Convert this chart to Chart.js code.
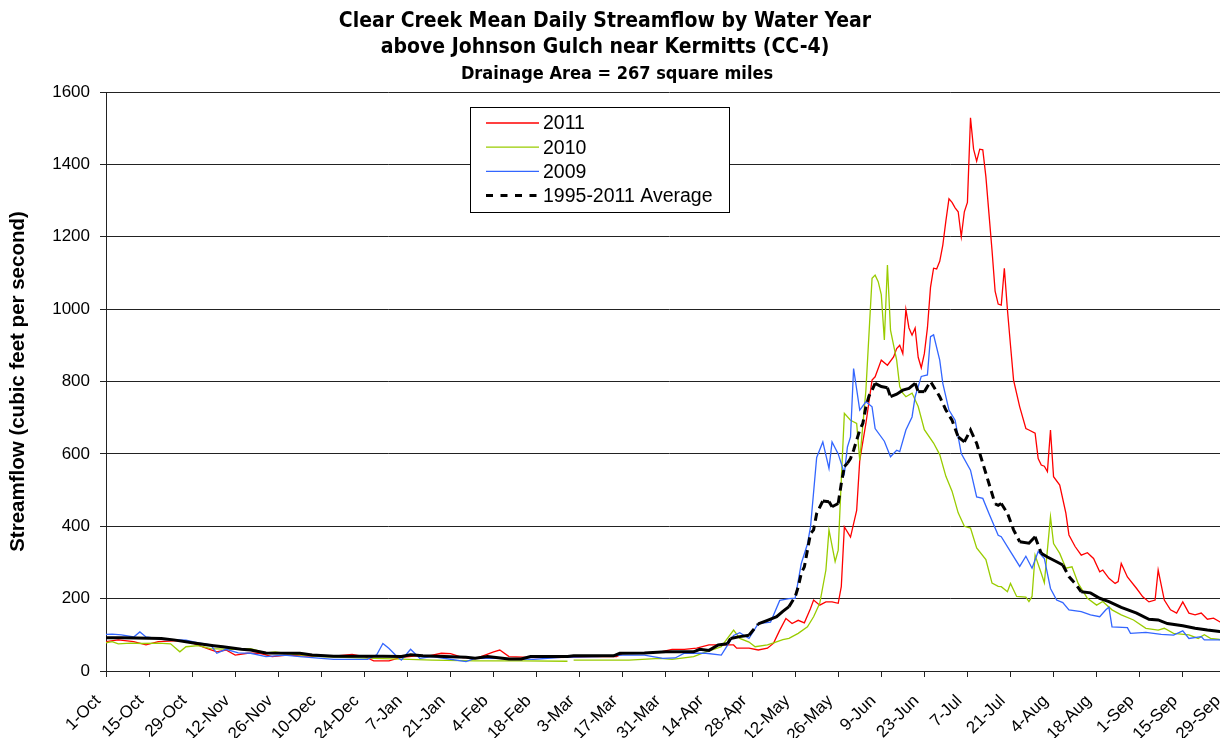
<!DOCTYPE html>
<html>
<head>
<meta charset="utf-8">
<title>Clear Creek Mean Daily Streamflow</title>
<script src="https://cdn.jsdelivr.net/npm/chart.js@4.4.0/dist/chart.umd.min.js"></script>
<style>
  html, body { margin: 0; padding: 0; background: #fff; overflow: hidden; }
  #wrap { width: 1232px; height: 738px; }
</style>
</head>
<body>
<div id="wrap"><canvas id="flowChart" width="1232" height="738"></canvas></div>
<script>
// tick labels along the water year, one every 14 days
const tickLabels = ['1-Oct', '15-Oct', '29-Oct', '12-Nov', '26-Nov', '10-Dec', '24-Dec', '7-Jan', '21-Jan',
  '4-Feb', '18-Feb', '3-Mar', '17-Mar', '31-Mar', '14-Apr', '28-Apr', '12-May', '26-May', '9-Jun',
  '23-Jun', '7-Jul', '21-Jul', '4-Aug', '18-Aug', '1-Sep', '15-Sep', '29-Sep'];
const tickDays = tickLabels.map((_, i) => i * 14);

const titleLines = ['Clear Creek Mean Daily Streamflow by Water Year',
  'above Johnson Gulch near Kermitts (CC-4)'];
const subTitle = 'Drainage Area = 267 square miles';
const yTitle = 'Streamflow (cubic feet per second)';

const seriesNames = ['2011', '2010', '2009', '1995-2011 Average'];
const seriesColors = ['#ff0000', '#99cc00', '#3366ff', '#000000'];

// [day of water year, cfs]
const flow2011 = [[0,81],[4,86],[9,81],[13,72],[17,81],[24,84],[28,78],[33,62],[36,53],[39,58],[42,44],[46,49],
  [50,49],[54,40],[59,44],[65,41],[74,41],[80,46],[84,40],[87,28],[92,28],[96,38],[101,42],[105,42],[109,49],
  [112,48],[116,37],[121,37],[126,53],[128,58],[131,40],[140,37],[150,38],[158,40],[166,40],[168,49],[174,50],
  [180,52],[184,60],[188,60],[192,63],[196,72],[200,72],[204,72],[205,63],[209,63],[212,58],[215,63],[217,77],
  [219,113],[221,145],[223,131],[225,140],[227,133],[229,173],[230,196],[232,182],[234,191],[236,191],[238,187],
  [239,233],[240,398],[242,370],[244,444],[245,582],[247,684],[249,804],[250,813],[252,859],[254,845],[256,868],
  [257,891],[258,900],[259,877],[260,999],[261,948],[262,928],[263,948],[264,867],[265,838],[266,877],[267,948],
  [268,1060],[269,1113],[270,1111],[271,1132],[272,1177],[273,1244],[274,1305],[275,1295],[276,1280],[277,1269],
  [278,1200],[279,1269],[280,1295],[281,1529],[282,1442],[283,1409],[284,1442],[285,1440],[286,1366],[287,1264],
  [288,1162],[289,1050],[290,1014],[291,1011],[292,1113],[293,999],[294,900],[295,804],[297,730],[299,670],
  [300,666],[302,657],[303,587],[304,569],[305,566],[306,551],[307,666],[308,537],[310,514],[312,436],[313,376],
  [315,344],[317,320],[319,327],[321,311],[323,274],[324,279],[326,256],[328,242],[329,247],[330,297],[332,260],
  [335,228],[337,205],[339,191],[341,196],[342,279],[344,196],[346,169],[348,160],[350,191],[352,160],[354,155],
  [356,160],[358,143],[360,146],[362,136],[363,131],[365,128]];

const flow2010 = [[0,78],[2,81],[4,75],[8,77],[12,76],[17,77],[21,75],[24,53],[26,67],[30,70],[34,62],[41,60],
  [47,62],[52,50],[55,53],[61,46],[70,40],[80,37],[87,35],[96,33],[106,30],[120,28],[135,28],[150,27],[151,null],
  [152,30],[170,30],[180,35],[184,32],[191,40],[195,53],[198,61],[200,67],[204,113],[206,90],[209,80],[211,67],
  [215,72],[217,78],[220,87],[222,90],[225,104],[228,122],[230,150],[232,187],[234,279],[235,390],[237,302],
  [238,334],[239,528],[240,712],[242,693],[244,684],[245,582],[247,776],[249,1085],[250,1094],[251,1076],
  [252,1040],[253,915],[254,1122],[255,942],[257,859],[258,786],[259,768],[260,758],[262,768],[264,731],
  [266,667],[269,630],[271,598],[273,538],[275,497],[277,437],[279,400],[281,395],[283,340],[286,308],[288,243],
  [290,234],[291,233],[293,219],[294,242],[296,206],[299,204],[300,192],[301,206],[302,320],[304,270],[305,244],
  [307,426],[308,352],[310,325],[312,284],[314,288],[316,242],[319,201],[322,182],[324,192],[327,169],[330,155],
  [334,141],[338,118],[342,113],[344,118],[347,104],[352,100],[355,90],[357,100],[359,90],[362,87],[365,85]];

const flow2009 = [[0,101],[2,102],[5,100],[9,94],[11,108],[13,94],[19,87],[26,85],[30,78],[34,72],[36,49],[39,60],
  [43,50],[47,49],[52,40],[58,44],[63,40],[74,32],[85,32],[88,45],[90,76],[92,62],[94,45],[96,30],[99,60],[102,35],
  [106,40],[117,26],[120,35],[128,35],[139,32],[148,38],[160,40],[168,44],[175,44],[181,35],[185,36],[188,49],
  [195,49],[200,44],[204,98],[206,106],[209,90],[212,131],[216,135],[219,195],[222,200],[224,201],[226,297],
  [228,351],[229,398],[231,590],[233,633],[235,560],[236,633],[238,600],[240,546],[241,619],[242,647],[243,836],
  [245,721],[247,744],[249,730],[250,670],[253,635],[255,592],[257,610],[258,606],[260,666],[262,702],[263,758],
  [265,814],[267,818],[268,924],[269,929],[271,859],[272,795],[274,721],[276,693],[278,601],[281,555],[283,481],
  [285,477],[287,435],[290,375],[291,371],[294,330],[297,289],[299,317],[301,284],[303,330],[305,311],[307,228],
  [309,196],[311,189],[313,169],[317,164],[320,155],[323,150],[325,169],[326,176],[327,122],[332,120],[333,104],
  [338,107],[343,101],[347,99],[350,111],[352,90],[356,95],[357,86],[362,86],[365,86]];

const flowAverage = [[0,92],[5,92],[10,91],[18,90],[22,86],[28,78],[35,70],[38,67],[44,60],[47,58],[52,50],[63,49],
  [67,44],[74,41],[90,41],[96,40],[99,45],[103,42],[110,40],[117,38],[120,35],[124,40],[131,33],[135,33],[138,40],
  [150,40],[152,42],[165,42],[167,49],[175,50],[182,53],[191,53],[193,60],[196,57],[199,72],[202,75],[203,90],
  [206,95],[209,99],[212,130],[215,140],[218,150],[220,165],[222,178],[224,205],[225,232],[226,270],[227,288],
  [228,334],[229,380],[230,390],[231,435],[233,470],[235,468],[236,454],[238,463],[239,518],[240,565],[241,574],
  [242,587],[243,610],[244,638],[245,666],[246,684],[247,730],[248,760],[249,776],[250,795],[252,786],[254,783],
  [255,758],[257,765],[259,776],[261,781],[263,795],[264,772],[266,772],[268,800],[271,758],[273,721],[275,693],
  [277,647],[279,633],[281,666],[283,629],[285,574],[287,518],[289,462],[290,458],[291,463],[293,436],[295,390],
  [297,357],[300,353],[302,371],[304,325],[306,315],[309,302],[311,293],[313,261],[315,242],[317,219],[320,216],
  [323,201],[326,192],[330,176],[335,160],[339,143],[342,141],[345,131],[350,125],[354,118],[358,113],[362,109],
  [365,107]];

const allSeries = [flow2011, flow2010, flow2009, flowAverage];

function toPoints(pairs) {
  return pairs.map(p => ({ x: p[0], y: p[1] }));
}

const sansFont = '"Liberation Sans", Arial, sans-serif';
const titleFont = '"DejaVu Sans Condensed", "Liberation Sans Narrow", "DejaVu Sans", sans-serif';

// titles drawn above the plot
const headerPlugin = {
  id: 'header',
  afterDraw(chart) {
    const ctx = chart.ctx;
    ctx.save();
    ctx.fillStyle = '#000';
    ctx.textAlign = 'center';
    ctx.textBaseline = 'middle';
    ctx.font = 'bold 21px ' + titleFont;
    ctx.fillText(titleLines[0], 605, 22);
    ctx.fillText(titleLines[1], 605, 48);
    ctx.font = 'bold 18px ' + titleFont;
    ctx.fillText(subTitle, 617, 74);
    ctx.restore();
  }
};

// boxed legend inside the plot, like the original
const boxLegend = {
  id: 'boxLegend',
  afterDraw(chart) {
    const ctx = chart.ctx;
    const x0 = 470, y0 = 107, w = 259, h = 105;
    ctx.save();
    ctx.fillStyle = '#fff';
    ctx.fillRect(x0, y0, w, h);
    ctx.strokeStyle = '#000';
    ctx.lineWidth = 1;
    ctx.strokeRect(x0 + 0.5, y0 + 0.5, w, h);
    ctx.font = '19.5px ' + sansFont;
    ctx.textBaseline = 'middle';
    ctx.textAlign = 'left';
    seriesNames.forEach((name, i) => {
      const y = 123 + i * 24.2;
      ctx.beginPath();
      ctx.strokeStyle = seriesColors[i];
      if (i === 3) {
        ctx.lineWidth = 3;
        ctx.setLineDash([7, 7.5]);
      } else {
        ctx.lineWidth = 1.3;
        ctx.setLineDash([]);
      }
      ctx.moveTo(486, y);
      ctx.lineTo(539, y);
      ctx.stroke();
      ctx.fillStyle = '#000';
      ctx.fillText(name, 543, y + 1);
    });
    ctx.restore();
  }
};

function makeDataset(i) {
  const ds = {
    label: seriesNames[i],
    data: toPoints(allSeries[i]),
    borderColor: seriesColors[i],
    backgroundColor: seriesColors[i],
    borderWidth: 1.3,
    pointRadius: 0,
    tension: 0,
    fill: false,
    spanGaps: false
  };
  return ds;
}

document.addEventListener('DOMContentLoaded', () => {
  const datasets = [0, 1, 2, 3].map(makeDataset);
  datasets[0].order = 3;
  datasets[1].order = 2;
  datasets[2].order = 1;
  datasets[3].order = 0;
  datasets[3].borderWidth = 3;
  // steep stretches of the average line come out dashed, flat ones solid
  datasets[3].segment = {
    borderDash: c => {
      const dx = Math.max(1, c.p1.parsed.x - c.p0.parsed.x);
      return Math.abs(c.p1.parsed.y - c.p0.parsed.y) / dx > 9 ? [8, 5] : undefined;
    }
  };

  new Chart(document.getElementById('flowChart').getContext('2d'), {
    type: 'line',
    data: { datasets: datasets },
    options: {
      responsive: false,
      animation: false,
      layout: { padding: { top: 92, right: 0, bottom: 0, left: 0 } },
      plugins: {
        legend: { display: false },
        title: { display: false },
        tooltip: { enabled: false }
      },
      scales: {
        x: {
          type: 'linear',
          min: 0,
          max: 366,
          afterBuildTicks: scale => { scale.ticks = tickDays.map(v => ({ value: v })); },
          afterFit: scale => {
            scale.height = 67;
            scale.paddingLeft = 0;
            scale.paddingRight = 0;
          },
          grid: { drawOnChartArea: false, drawTicks: true, tickLength: 6, color: '#222' },
          border: { color: '#222', width: 1 },
          ticks: {
            autoSkip: false,
            maxRotation: 45,
            minRotation: 45,
            padding: 14,
            labelOffset: -8,
            color: '#000',
            font: { family: sansFont, size: 17 },
            callback: v => {
              const i = tickDays.indexOf(v);
              return i >= 0 ? tickLabels[i] : '';
            }
          }
        },
        y: {
          min: 0,
          max: 1600,
          afterFit: scale => { scale.width = 106; },
          grid: { color: '#222', lineWidth: 1, tickLength: 6 },
          border: { color: '#222', width: 1 },
          ticks: {
            stepSize: 200,
            padding: 10,
            color: '#000',
            font: { family: sansFont, size: 17 },
            callback: v => String(v)
          },
          title: {
            display: true,
            text: yTitle,
            color: '#000',
            font: { family: sansFont, size: 20.5, weight: 'bold' },
            padding: { top: 6, bottom: 0 }
          }
        }
      }
    },
    plugins: [headerPlugin, boxLegend]
  });
});
</script>
</body>
</html>
